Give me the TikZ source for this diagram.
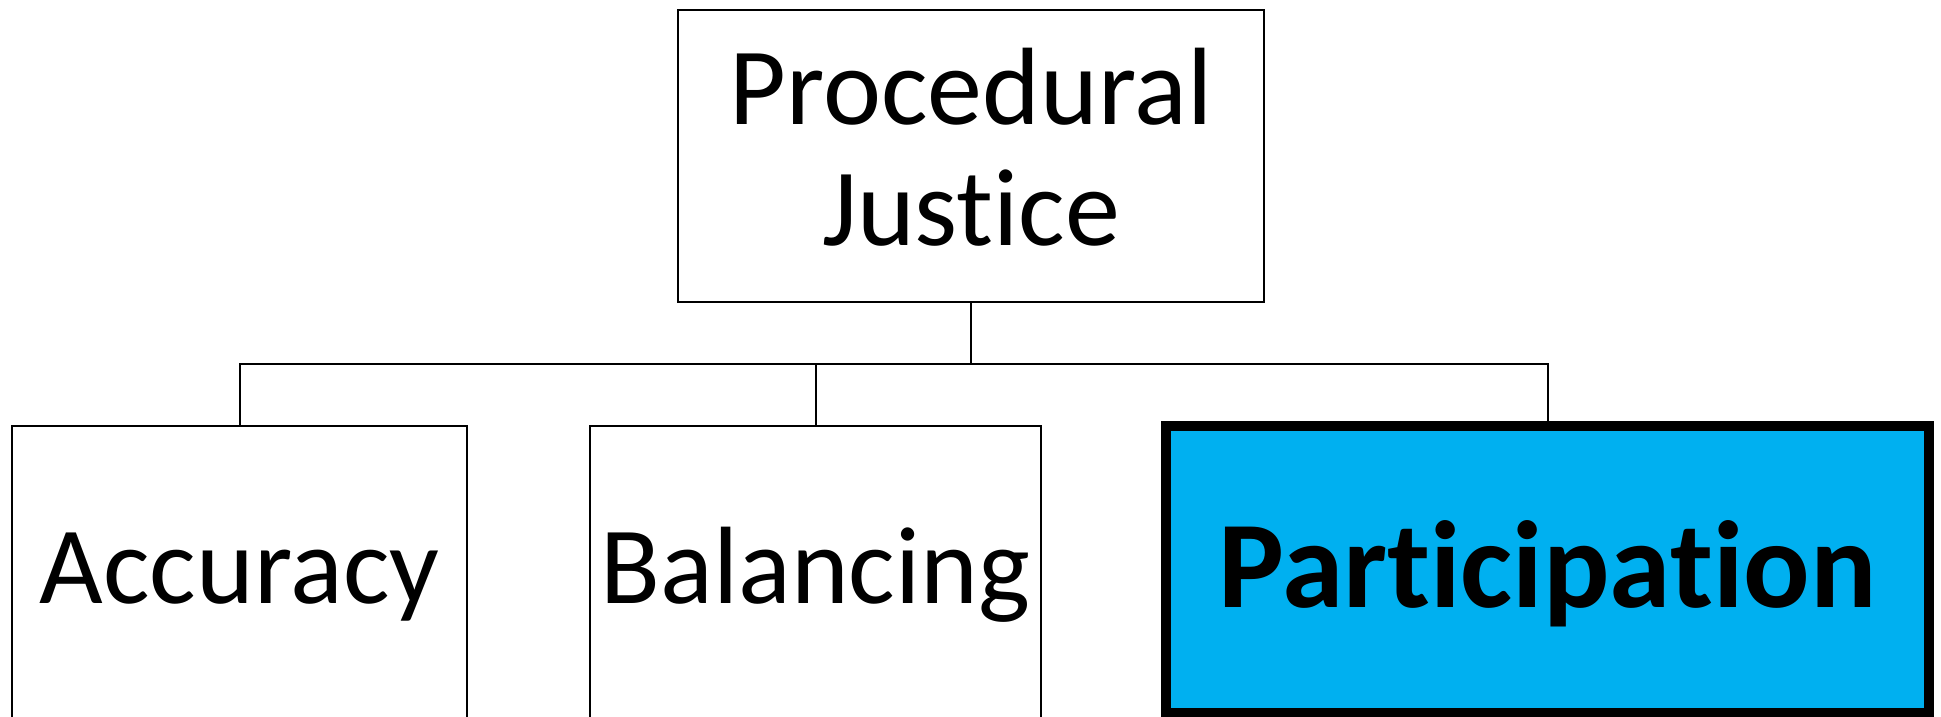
\documentclass[tikz,border=0pt]{standalone}
\usepackage{fontspec}
\setmainfont{Carlito}[Ligatures={NoCommon,NoContextual}]
\definecolor{partblue}{HTML}{00B0F0}
\begin{document}
\begin{tikzpicture}[x=1pt,y=-1pt,
  box/.style={draw=black, line width=2pt, fill=white, inner sep=0pt, outer sep=0pt},
  hibox/.style={draw=black, line width=10pt, fill=partblue, inner sep=0pt, outer sep=0pt},
  lbl/.style={inner sep=0pt, outer sep=0pt, anchor=base, font=\fontsize{110}{121}\selectfont},
  hilbl/.style={inner sep=0pt, outer sep=0pt, anchor=base, font=\fontsize{124}{136}\selectfont\bfseries},
  conn/.style={draw=black, line width=2pt}]
\useasboundingbox (0,0) rectangle (1941,717);
\clip (0,0) rectangle (1941,717);
\fill[white] (0,0) rectangle (1941,717);
% top box
\node[box, minimum width=586pt, minimum height=292pt] (top) at (971,156) {};
\node[lbl] (t1) at (971,124) {Procedural};
\node[lbl] (t2) at (971,245) {Justice};
% bottom boxes
\node[box, minimum width=455pt, minimum height=400pt] (acc) at (239.5,626) {};
\node[box, minimum width=451pt, minimum height=400pt] (bal) at (815.5,626) {};
\node[hibox, minimum width=763pt, minimum height=287pt] (part) at (1547.5,569.5) {};
\node[lbl] (accl) at (239.5,603) {Accuracy};
\node[lbl] (ball) at (815.5,603) {Balancing};
\node[hilbl] (partl) at (1547.5,607) {Participation};
% connectors
\draw[conn] (top.south) -- ++(0,62) coordinate (j);
\draw[conn] (acc.north) -- (acc.north |- j) -- (part.north |- j) -- (part.north);
\draw[conn] (bal.north) -- (bal.north |- j);
\end{tikzpicture}
\end{document}
